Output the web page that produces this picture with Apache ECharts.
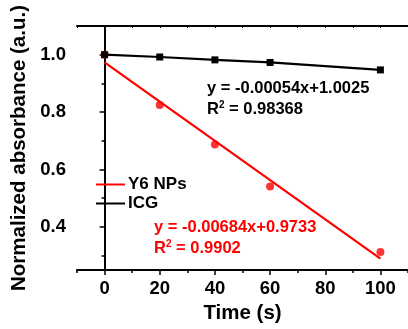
<!DOCTYPE html>
<html>
<head>
<meta charset="utf-8">
<script src="https://cdn.jsdelivr.net/npm/echarts@6/dist/echarts.min.js"></script>
<style>html,body{margin:0;padding:0;background:#fff}#c{width:408px;height:329px}</style>
</head>
<body>
<div id="c"></div>
<script>
// Data
var timeS = [0, 20, 40, 60, 100];
var icgValues = [1.0, 0.992, 0.982, 0.973, 0.947];
var y6Values = [1.0, 0.825, 0.687, 0.541, 0.313];
var y6FitX = [0, 100];
var y6FitY = [0.9733, 0.2893];
var xTickLabels = [0, 20, 40, 60, 80, 100];
var xMinorTicks = [-10, 10, 30, 50, 70, 90, 110];
var yTickLabels = [0.4, 0.6, 0.8, 1.0];
var yMinorTicks = [0.3, 0.5, 0.7, 0.9];
var icgEquation = 'y = -0.00054x+1.0025';
var icgR2 = '0.98368';
var y6Equation = 'y = -0.00684x+0.9733';
var y6R2 = '0.9902';

function pairs(xs, ys) { return xs.map(function (x, i) { return [x, ys[i]]; }); }

var FONT = '"Liberation Sans", Arial, sans-serif';
var chart = echarts.init(document.getElementById('c'), null, { renderer: 'canvas' });
var grid = { left: 77, top: 26, width: 334, height: 247 };
var axLine = { lineStyle: { color: '#000', width: 2 } };

chart.setOption({
  animation: false,
  backgroundColor: '#fff',
  grid: grid,
  legend: {
    data: ['Y6 NPs', 'ICG'],
    orient: 'vertical',
    left: 96, top: 176,
    padding: 0,
    icon: 'rect',
    itemWidth: 29, itemHeight: 2,
    itemGap: 2,
    textStyle: { fontFamily: FONT, fontWeight: 'bold', fontSize: 17, color: '#000', padding: [0, 0, 0, -2] }
  },
  xAxis: [
    {
      type: 'value', min: -10, max: 110, position: 'bottom',
      name: 'Time (s)', nameLocation: 'middle', nameGap: 33,
      nameTextStyle: { fontFamily: FONT, fontWeight: 'bold', fontSize: 20.5, color: '#000' },
      axisLine: axLine,
      axisTick: { show: true, length: 5, inside: false, lineStyle: { color: '#000', width: 1.5 }, customValues: xTickLabels },
      axisLabel: { fontFamily: FONT, fontWeight: 'bold', fontSize: 18.5, color: '#000', margin: 9, customValues: xTickLabels },
      splitLine: { show: false }
    },
    {
      type: 'value', min: -10, max: 110, position: 'bottom',
      axisLine: { show: false },
      axisTick: { show: true, length: 3, lineStyle: { color: '#000', width: 1.5 }, customValues: xMinorTicks },
      axisLabel: { show: false },
      splitLine: { show: false }
    },
    {
      type: 'value', min: -10, max: 110, position: 'top',
      axisLine: axLine,
      axisTick: { show: true, length: 2, inside: true, lineStyle: { color: '#000', width: 1 }, customValues: xTickLabels.concat(xMinorTicks) },
      axisLabel: { show: false },
      splitLine: { show: false }
    }
  ],
  yAxis: [
    {
      type: 'value', min: 0.25, max: 1.1, position: 'left',
      name: 'Normalized absorbance (a.u.)', nameLocation: 'middle', nameGap: 46,
      nameTextStyle: { fontFamily: FONT, fontWeight: 'bold', fontSize: 20.5, color: '#000' },
      axisLine: axLine,
      axisTick: { show: true, length: 5, lineStyle: { color: '#000', width: 1.5 }, customValues: yTickLabels },
      axisLabel: { fontFamily: FONT, fontWeight: 'bold', fontSize: 18.5, color: '#000', margin: 11,
        formatter: function (v) { return v.toFixed(1); }, customValues: yTickLabels },
      splitLine: { show: false }
    },
    {
      type: 'value', min: 0.25, max: 1.1, position: 'left',
      axisLine: { show: false },
      axisTick: { show: true, length: 3, lineStyle: { color: '#000', width: 1.5 }, customValues: yMinorTicks },
      axisLabel: { show: false },
      splitLine: { show: false }
    }
  ],
  series: [
    {
      name: 'Y6 NPs', type: 'line', data: pairs(y6FitX, y6FitY),
      showSymbol: false, symbol: 'none',
      lineStyle: { color: '#ff0000', width: 2.2 }, itemStyle: { color: '#ff0000' }, z: 3
    },
    {
      name: 'Y6 NPs points', type: 'scatter', data: pairs(timeS, y6Values),
      symbol: 'circle', symbolSize: 8, itemStyle: { color: '#ff0000' }, z: 4
    },
    {
      name: 'ICG', type: 'line', data: pairs(timeS, icgValues),
      symbol: 'rect', symbolSize: 7, showSymbol: true,
      lineStyle: { color: '#000', width: 2.2 }, itemStyle: { color: '#000' }, z: 5
    }
  ],
  graphic: [
    { type: 'text', left: 207, top: 80, style: { text: icgEquation, fill: '#000', font: 'bold 16.5px ' + FONT } },
    { type: 'text', left: 207, top: 100, style: { text: 'R{s|2} = ' + icgR2, fill: '#000', font: 'bold 16.5px ' + FONT,
      rich: { s: { fontSize: 10, fontWeight: 'bold', fontFamily: FONT, verticalAlign: 'top', padding: [0, 0, 8, 0], fill: '#000' } } } },
    { type: 'text', left: 154, top: 219, style: { text: y6Equation, fill: '#ff0000', font: 'bold 16.5px ' + FONT } },
    { type: 'text', left: 154, top: 239, style: { text: 'R{s|2} = ' + y6R2, fill: '#ff0000', font: 'bold 16.5px ' + FONT,
      rich: { s: { fontSize: 10, fontWeight: 'bold', fontFamily: FONT, verticalAlign: 'top', padding: [0, 0, 8, 0], fill: '#ff0000' } } } }
  ]
});
</script>
</body>
</html>
